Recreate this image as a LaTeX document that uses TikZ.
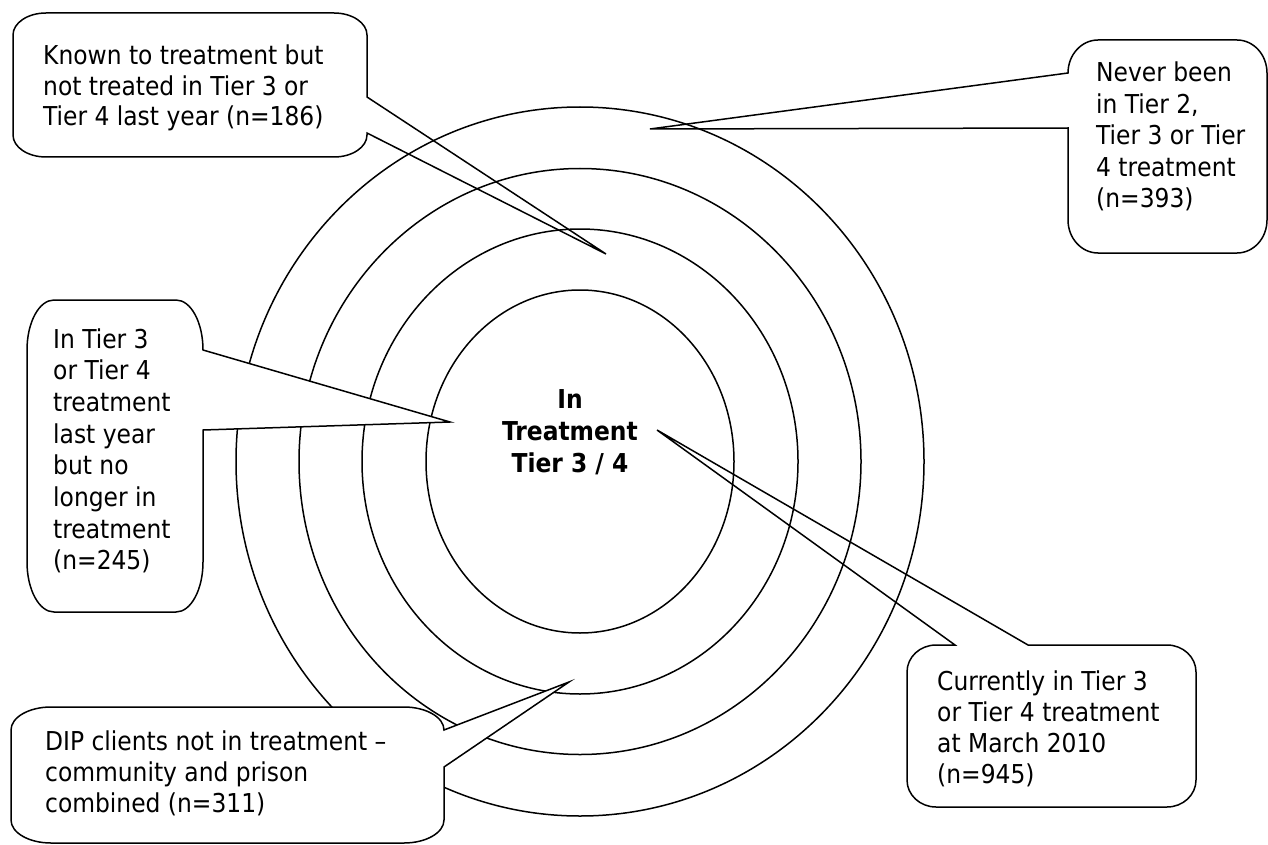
\documentclass[tikz,border=0pt]{standalone}
\usepackage{fontspec}
\setmainfont{DejaVu Sans Condensed}
\newcommand\crnTR[4]{.. controls (#1-0.4477*#3,#2) and (#1,#2+0.4477*#4) .. (#1,#2+#4)}
\newcommand\crnBR[4]{.. controls (#1,#2-0.4477*#4) and (#1-0.4477*#3,#2) .. (#1-#3,#2)}
\newcommand\crnBL[4]{.. controls (#1+0.4477*#3,#2) and (#1,#2-0.4477*#4) .. (#1,#2-#4)}
\newcommand\crnTL[4]{.. controls (#1,#2+0.4477*#4) and (#1+0.4477*#3,#2) .. (#1+#3,#2)}
\tikzset{
  ring/.style={draw, line width=1.5pt},
  callout/.style={draw, line width=1.5pt, line join=miter, fill=white},
  lbl/.style={anchor=base west, inner sep=0pt},
}
\begin{document}
\begin{tikzpicture}[x=1pt,y=-1pt]
\useasboundingbox (0,0) rectangle (1268,845);

% callouts under the rings
\draw[callout] (46,13) -- (334,13) \crnTR{367}{13}{33}{22} -- (367,97) -- (606,254) -- (367,133) -- (367,135)
  \crnBR{367}{157}{33}{22} -- (46,157) \crnBL{13}{157}{33}{22} -- (13,35) \crnTL{13}{13}{33}{22} -- cycle;
\draw[callout] (1098,40) -- (1237,40) \crnTR{1267}{40}{30}{33} -- (1267,220) \crnBR{1267}{253}{30}{33}
  -- (1098,253) \crnBL{1068}{253}{30}{33} -- (1068,128) -- (650,129) -- (1068,73) \crnTL{1068}{40}{30}{33} -- cycle;
\draw[callout] (936,645) -- (955,645) -- (657,430) -- (1028,645) -- (1167,645) \crnTR{1196}{645}{29}{27}
  -- (1196,780) \crnBR{1196}{807}{29}{27} -- (936,807) \crnBL{907}{807}{29}{27} -- (907,672) \crnTL{907}{645}{29}{27} -- cycle;

% rings
\draw[ring] (580,461.5) ellipse [x radius=344pt, y radius=354.5pt];
\draw[ring] (580,461.5) ellipse [x radius=281pt, y radius=293pt];
\draw[ring] (580,461.5) ellipse [x radius=218pt, y radius=232.5pt];
\draw[ring] (580,461.5) ellipse [x radius=154pt, y radius=171.5pt];

% callouts over the rings
\draw[callout] (54,300) -- (176,300) \crnTR{203}{300}{27}{50} -- (450,422) -- (203,430) -- (203,562)
  \crnBR{203}{612}{27}{50} -- (54,612) \crnBL{27}{612}{27}{50} -- (27,350) \crnTL{27}{300}{27}{50} -- cycle;
\draw[callout] (51,707) -- (404,707) \crnTR{444}{707}{40}{23} -- (569,682) -- (444,767) -- (444,820)
  \crnBR{444}{843}{40}{23} -- (51,843) \crnBL{11}{843}{40}{23} -- (11,730) \crnTL{11}{707}{40}{23} -- cycle;

% texts
\node[lbl, font=\fontsize{26}{30.5}\selectfont] (t1) at (43,65)
  {\begin{tabular}[t]{@{}l@{}}Known to treatment but\\not treated in Tier 3 or\\Tier 4 last year (n=186)\end{tabular}};
\node[lbl, font=\fontsize{26}{31.5}\selectfont] (t2) at (1096,82)
  {\begin{tabular}[t]{@{}l@{}}Never been\\in Tier 2,\\Tier 3 or Tier\\4 treatment\\(n=393)\end{tabular}};
\node[lbl, font=\fontsize{26}{31.7}\selectfont] (t3) at (53,348)
  {\begin{tabular}[t]{@{}l@{}}In Tier 3\\or Tier 4\\treatment\\last year\\but no\\longer in\\treatment\\(n=245)\end{tabular}};
\node[lbl, font=\fontsize{26}{31}\selectfont] (t4) at (937,690)
  {\begin{tabular}[t]{@{}l@{}}Currently in Tier 3\\or Tier 4 treatment\\at March 2010\\(n=945)\end{tabular}};
\node[lbl, font=\fontsize{26}{31}\selectfont] (t5) at (45,750)
  {\begin{tabular}[t]{@{}l@{}}DIP clients not in treatment --\\community and prison\\combined (n=311)\end{tabular}};
\node[anchor=base, inner sep=0pt, font=\fontsize{26}{32}\selectfont\bfseries] (ctr) at (570,408)
  {\begin{tabular}[t]{@{}c@{}}In\\Treatment\\Tier 3 / 4\end{tabular}};
\end{tikzpicture}
\end{document}
